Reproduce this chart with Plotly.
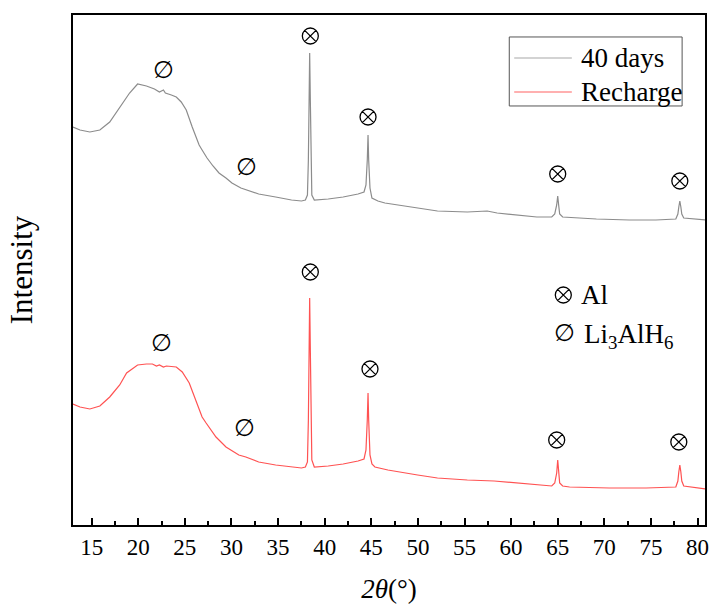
import plotly.graph_objects as go

# ---- data (2theta in degrees, intensity in arbitrary units, curves offset) ----
x_40days = [13.00, 13.75, 14.81, 15.88, 16.94, 18.01, 19.07, 19.93, 20.88, 21.74, 22.27, 22.70, 22.91,
            23.55, 24.08, 24.61, 25.15, 25.79, 26.53, 26.85, 27.38, 28.02, 28.66, 29.41, 30.05, 31.01,
            31.86, 32.92, 34.74, 36.44, 37.51, 37.93, 38.15, 38.25, 38.33, 38.39, 38.46, 38.53, 38.62,
            38.89, 40.38, 41.98, 43.58, 44.22, 44.43, 44.57, 44.65, 44.72, 44.86, 45.07, 45.71, 46.46,
            47.84, 49.65, 52.10, 55.30, 57.43, 58.50, 60.63, 62.76, 64.36, 64.68, 64.89, 65.00, 65.10,
            65.21, 65.53, 67.02, 69.15, 72.67, 75.54, 77.67, 77.89, 77.99, 78.10, 78.21, 78.31, 78.52,
            79.80, 80.84]
y_40days = [398, 395, 393, 395, 403, 417, 432, 441, 439, 436, 433, 435, 432,
            430, 428, 423, 415, 398, 380, 375, 367, 359, 352, 347, 342, 337,
            334, 331, 328, 325, 324, 325, 330, 365, 425, 472, 425, 355, 330,
            325, 326, 328, 331, 333, 340, 365, 390, 365, 337, 327, 324, 322,
            320, 317, 314, 313, 314, 312, 310, 308, 308, 311, 320, 329, 320,
            311, 308, 307, 306, 305, 305, 306, 311, 318, 324, 318, 311, 307,
            306, 305]

x_recharge = [13.00, 13.75, 14.81, 15.88, 16.94, 18.01, 18.75, 19.93, 20.88, 21.52, 21.95, 22.27, 22.70,
              23.02, 24.08, 24.72, 25.47, 26.21, 26.85, 27.28, 27.81, 28.34, 29.41, 30.79, 31.54, 32.92,
              34.74, 36.44, 37.51, 37.93, 38.15, 38.25, 38.33, 38.39, 38.46, 38.53, 38.62, 38.89, 40.38,
              41.98, 43.58, 44.22, 44.43, 44.57, 44.65, 44.72, 44.86, 45.07, 45.39, 46.78, 48.59, 49.97,
              52.10, 55.30, 58.18, 60.63, 62.76, 64.36, 64.68, 64.89, 65.00, 65.10, 65.21, 65.53, 66.27,
              70.54, 74.48, 77.67, 77.89, 77.99, 78.10, 78.21, 78.31, 78.52, 79.80, 80.84]
y_recharge = [121, 118, 116, 119, 128, 140, 152, 160, 161, 161, 159, 160, 158,
              159, 158, 153, 142, 123, 108, 102, 95, 88, 78, 70, 68, 63,
              60, 58, 57, 58, 63, 105, 175, 227, 175, 95, 65, 58, 59,
              61, 64, 66, 75, 105, 132, 105, 70, 61, 58, 55, 52, 50,
              47, 45, 44, 42, 40, 39, 42, 52, 65, 52, 42, 39, 38,
              37, 37, 38, 44, 53, 60, 53, 44, 39, 37, 36]

# Al peak labels (⊗) and Li3AlH6 labels (∅): 2theta and intensity position
al_x = [38.46, 44.65, 65.00, 78.10, 38.46, 44.86, 64.89, 77.99]
al_y = [489, 408, 351, 344, 253, 156, 85, 83]
lah_x = [22.70, 31.65, 22.48, 31.43]
lah_y = [455, 358, 182, 97]
# phase key symbol positions (⊗ Al, ∅ Li3AlH6)
key_x = [65.60, 65.75]
key_y = [230, 192]

tick_vals = [15, 20, 25, 30, 35, 40, 45, 50, 55, 60, 65, 70, 75, 80]
tick_text = [str(v) for v in tick_vals]

series_names = ["40 days", "Recharge"]
series_colors = ["#8c8c8c", "#ff5252"]
legend_line_colors = ["#a8a8a8", "#ff6262"]

FONT = "Liberation Serif, Times New Roman, serif"

fig = go.Figure()
fig.add_trace(go.Scatter(x=x_40days, y=y_40days, mode="lines", name=series_names[0],
                         line=dict(color=series_colors[0], width=1.2), showlegend=False))
fig.add_trace(go.Scatter(x=x_recharge, y=y_recharge, mode="lines", name=series_names[1],
                         line=dict(color=series_colors[1], width=1.2), showlegend=False))

# Al peak markers (and key marker)
fig.add_trace(go.Scatter(x=al_x + key_x[:1], y=al_y + key_y[:1], mode="markers", name="Al", showlegend=False,
                         marker=dict(symbol="circle-x-open", size=16, color="black",
                                     line=dict(width=1.3, color="black"))))
# Li3AlH6 labels (and key symbol)
for xv, yv in zip(lah_x + key_x[1:], lah_y + key_y[1:]):
    fig.add_annotation(x=xv, y=yv, text="∅", showarrow=False,
                       font=dict(family="DejaVu Sans", size=24, color="black"))

# ---- legend box (40 days / Recharge) drawn in paper coordinates ----
fig.add_shape(type="rect", xref="paper", yref="paper", x0=0.6903, x1=0.9638, y0=0.8216, y1=0.9569,
              line=dict(color="#555555", width=1), fillcolor="white", layer="above")
for i, (nm, col) in enumerate(zip(series_names, legend_line_colors)):
    yc = 0.9157 - i * 0.0667
    fig.add_shape(type="line", xref="paper", yref="paper", x0=0.6981, x1=0.7893, y0=yc, y1=yc,
                  line=dict(color=col, width=1.2), layer="above")
    fig.add_annotation(xref="paper", yref="paper", x=0.8003, y=yc, xanchor="left", yanchor="middle",
                       text=nm, showarrow=False, font=dict(family=FONT, size=27, color="black"))

# ---- phase key texts ----
fig.add_annotation(xref="paper", yref="paper", x=0.800, y=0.451, xanchor="left", yanchor="middle",
                   text="Al", showarrow=False, font=dict(family=FONT, size=27, color="black"))
fig.add_annotation(xref="paper", yref="paper", x=0.806, y=0.370, xanchor="left", yanchor="middle",
                   text="Li<sub>3</sub>AlH<sub>6</sub>",
                   showarrow=False, font=dict(family=FONT, size=27, color="black"))

fig.update_layout(
    width=713, height=607,
    margin=dict(l=73, r=4, t=15, b=82),
    paper_bgcolor="white", plot_bgcolor="white",
    font=dict(family=FONT, color="black"),
    showlegend=False,
    xaxis=dict(range=[13, 80.8], tickmode="array", tickvals=tick_vals, ticktext=tick_text,
               ticks="inside", ticklen=7, tickwidth=1.5, tickcolor="black",
               minor=dict(ticks="inside", ticklen=4, dtick=2.5, tick0=15, tickcolor="black", tickwidth=1.5),
               showline=True, linecolor="black", linewidth=1.8, mirror=True,
               showgrid=False, zeroline=False,
               tickfont=dict(family=FONT, size=23, color="black"),
               title=dict(text="<i>2θ</i>(°)", font=dict(family=FONT, size=27, color="black"), standoff=21)),
    yaxis=dict(range=[0, 510], showticklabels=False, ticks="",
               showline=True, linecolor="black", linewidth=1.8, mirror=True,
               showgrid=False, zeroline=False,
               title=dict(text="Intensity", font=dict(family=FONT, size=31, color="black"), standoff=29)),
)

fig.write_html("out.html")
